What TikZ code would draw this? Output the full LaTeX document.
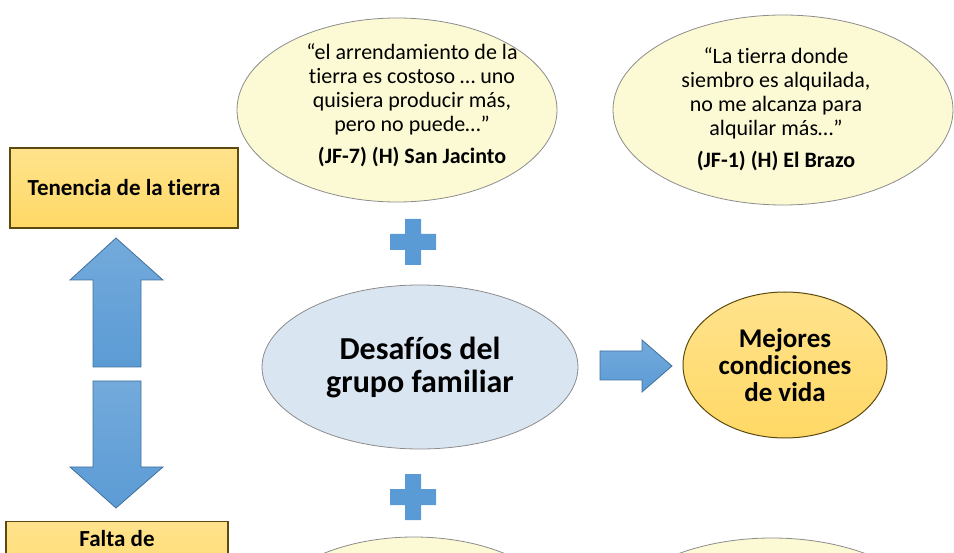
\documentclass[tikz,border=0pt]{standalone}
\usepackage{fontspec}
\setmainfont{Carlito}[Ligatures=CommonOff]
\usetikzlibrary{shapes.geometric,calc}

\definecolor{quotefill}{HTML}{FCFAD4}
\definecolor{quoteline}{HTML}{8C8C8C}
\definecolor{goldfill}{HTML}{FFD966}
\definecolor{goldline}{HTML}{5C4A10}
\definecolor{skyfill}{HTML}{DAE5F2}
\definecolor{arrowfill}{HTML}{5B9BD5}
\definecolor{arrowline}{HTML}{41719C}

\tikzset{
  quote/.style={draw=quoteline, fill=quotefill, line width=0.8pt},
  quotetext/.style={align=center, font=\fontsize{22}{24}\selectfont, inner sep=0pt},
  goldbox/.style={draw=goldline, line width=1.2pt, top color=goldfill!75!white, bottom color=goldfill,
    font=\bfseries\fontsize{23}{25}\selectfont, align=center, inner sep=0pt},
  blockarrow/.style={draw=arrowline, line width=0.8pt, top color=arrowfill!85!white, bottom color=arrowfill}
}
\newcommand{\plusmark}[1]{
    \fill[arrowfill] ($(#1)+(-23,-8)$) -- ++(15,0) -- ++(0,-15) -- ++(16,0) -- ++(0,15) -- ++(15,0)
        -- ++(0,16) -- ++(-15,0) -- ++(0,15) -- ++(-16,0) -- ++(0,-15) -- ++(-15,0) -- cycle;
}

\begin{document}
\begin{tikzpicture}[x=1pt, y=-1pt]
            \useasboundingbox (0,0) rectangle (954,553);
            \begin{scope}
            \clip (0,0) rectangle (954,553);

            % quotes
            \draw[quote] (397,110) ellipse (160 and 92);
            \draw[quote] (783,110) ellipse (170 and 95);
            \draw[quote] (414,631) ellipse (160 and 94);
            \draw[quote] (772,633) ellipse (170 and 95);
            \node[quotetext] (q1) at (412,105) {“el arrendamiento de la\\ tierra es costoso … uno\\ quisiera producir más,\\ pero no puede…”\\[8pt] \textbf{(JF-7) (H) San Jacinto}};
            \node[quotetext] (q2) at (776,109) {“La tierra donde\\ siembro es alquilada,\\ no me alcanza para\\ alquilar más…”\\[8pt] \textbf{(JF-1) (H) El Brazo}};

            % centre
            \node[ellipse, draw=quoteline, fill=skyfill, line width=0.8pt, minimum width=316, minimum height=164,
                  align=center, font=\bfseries\fontsize{32}{33}\selectfont] (reto) at (420,367) {Desafíos del\\ grupo familiar};
            \node[ellipse, draw=goldline, line width=1pt, top color=goldfill!75!white, bottom color=goldfill,
                  minimum width=204, minimum height=146, align=center,
                  font=\bfseries\fontsize{27}{27}\selectfont] (vida) at (785,365) {Mejores\\ condiciones\\ de vida};

            % boxes
            \node[goldbox, minimum width=228, minimum height=80] (tenencia) at (124,188) {Tenencia de la tierra};
            \node[goldbox, minimum width=222, minimum height=80, anchor=north] (falta) at (117,521) {};
            \node[font=\bfseries\fontsize{23}{25}\selectfont, inner sep=0pt] (faltatext) at (117,539) {Falta de};

            % arrows
            \coordinate (up) at (116,238);
            \coordinate (down) at (116,508);
            \coordinate (tip) at (672,366);
            \draw[blockarrow] (up) -- (163,280) -- (141,280) -- (141,367) -- (93,367) -- (93,280) -- (70,280) -- cycle;
            \draw[blockarrow] (down) -- (70,467) -- (93,467) -- (93,381) -- (141,381) -- (141,467) -- (163,467) -- cycle;
            \draw[blockarrow] (tip) -- (642,392) -- (642,380) -- (600,380) -- (600,351) -- (642,351) -- (642,340) -- cycle;

            \plusmark{413,242}
            \plusmark{413,497}
            \end{scope}
        \end{tikzpicture}
\end{document}
